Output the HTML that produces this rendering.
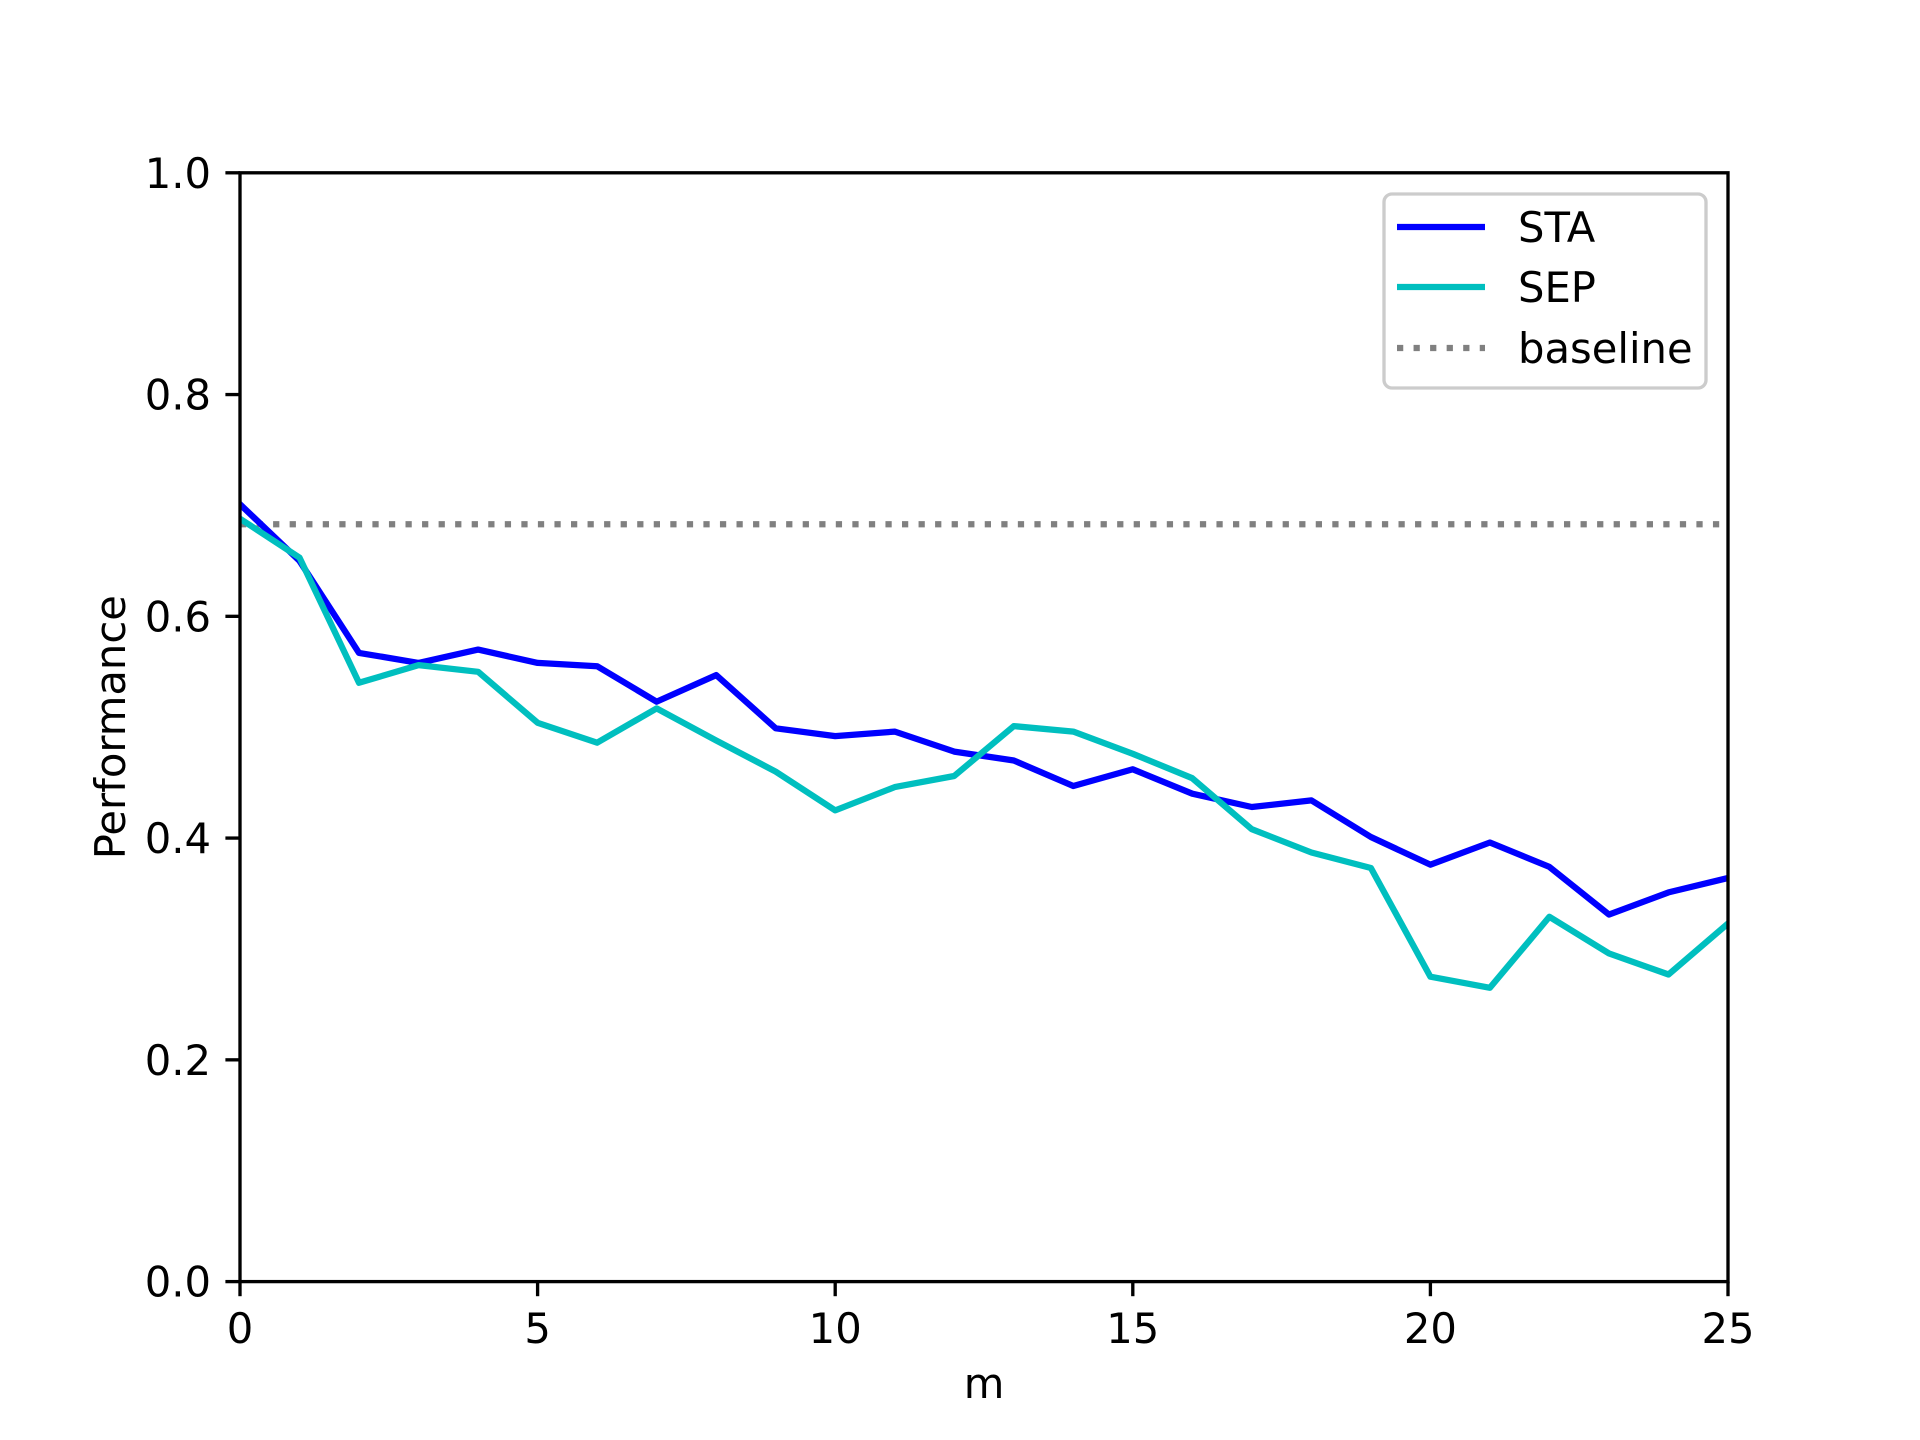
<!DOCTYPE html>
<html><head><meta charset="utf-8"><style>
html,body{margin:0;padding:0;background:#fff}
svg{display:block}
text{font-family:"DejaVu Sans","Liberation Sans",sans-serif;fill:#000}
</style></head><body>
<svg id="chart" width="1920" height="1440" viewBox="0 0 1920 1440" xmlns="http://www.w3.org/2000/svg">
<defs><clipPath id="axclip"><rect x="240" y="172.8" width="1488" height="1108.8"/></clipPath></defs>
<rect width="1920" height="1440" fill="#fff"/>
<g id="plot"></g>
</svg>
<script>
const xValues=[0,1,2,3,4,5,6,7,8,9,10,11,12,13,14,15,16,17,18,19,20,21,22,23,24,25];
const staValues=[0.701,0.650,0.567,0.558,0.570,0.558,0.555,0.523,0.547,0.499,0.492,0.496,0.478,0.470,0.447,0.462,0.440,0.428,0.434,0.401,0.376,0.396,0.374,0.331,0.351,0.364];
const sepValues=[0.688,0.653,0.540,0.556,0.550,0.504,0.486,0.517,0.488,0.460,0.425,0.446,0.456,0.501,0.496,0.476,0.454,0.408,0.387,0.373,0.275,0.265,0.329,0.296,0.277,0.323];
const baselineValue=0.683;
const xTicks=[0,5,10,15,20,25];
const yTicks=[0.0,0.2,0.4,0.6,0.8,1.0];
const yTickLabels=["0.0","0.2","0.4","0.6","0.8","1.0"];

const L=240,R=1728,T=172.8,B=1281.6;
const sx=v=>L+(v-0)/(25-0)*(R-L);
const sy=v=>B-(v-0)/(1-0)*(B-T);
const NS="http://www.w3.org/2000/svg";
const g=document.getElementById('plot');
function mk(tag,attrs,parent){const e=document.createElementNS(NS,tag);for(const k in attrs)e.setAttribute(k,attrs[k]);(parent||g).appendChild(e);return e;}

const data=mk('g',{'clip-path':'url(#axclip)'});



// baseline
const bl=mk('line',{x1:sx(0),x2:sx(25),y1:sy(baselineValue),y2:sy(baselineValue),stroke:'#808080','stroke-width':6.25,'stroke-dasharray':'6.25 10.3'},data);



function series(vals,color,name){
  const pts=vals.map((v,i)=>sx(xValues[i]).toFixed(1)+','+sy(v).toFixed(1)).join(' ');
  const p=mk('polyline',{points:pts,fill:'none',stroke:color,'stroke-width':6.25,'stroke-linejoin':'round','stroke-linecap':'square'},data);
  
  
}
series(staValues,'#0000ff','sta-line');
series(sepValues,'#00bfbf','sep-line');

// spines
const fr=mk('rect',{x:L,y:T,width:R-L,height:B-T,fill:'none',stroke:'#000','stroke-width':3.33});



xTicks.forEach(t=>{
  const tk=mk('line',{x1:sx(t),x2:sx(t),y1:B,y2:B+14.6,stroke:'#000','stroke-width':3.33});
  
  
  const tx=mk('text',{x:sx(t),y:1343,'font-size':41.7,'text-anchor':'middle'});
  tx.textContent=String(t);
  
  
});
yTicks.forEach((t,i)=>{
  const tk=mk('line',{x1:L-14.6,x2:L,y1:sy(t),y2:sy(t),stroke:'#000','stroke-width':3.33});
  
  
  const tx=mk('text',{x:211,y:sy(t)+15,'font-size':41.7,'text-anchor':'end'});
  tx.textContent=yTickLabels[i];
  
  
});
const xl=mk('text',{x:(L+R)/2,y:1398,'font-size':41.7,'text-anchor':'middle'});
xl.textContent='m';


const yl=mk('text',{x:0,y:0,'font-size':41.7,'text-anchor':'middle',transform:'translate(125,'+((T+B)/2)+') rotate(-90)'});
yl.textContent='Performance';



// legend
const lg=mk('g',{});


mk('rect',{x:1384,y:194,width:322,height:194,rx:8,fill:'#fff','fill-opacity':0.8,stroke:'#cccccc','stroke-width':3.33},lg);
const entries=[['STA','#0000ff',null,227],['SEP','#00bfbf',null,287],['baseline','#808080','6.25 10.3',348]];
entries.forEach(e=>{
  const ln=mk('line',{x1:1397,x2:1485,y1:e[3],y2:e[3],stroke:e[1],'stroke-width':6.25},lg);
  if(e[2])ln.setAttribute('stroke-dasharray',e[2]);
  
  
  const tx=mk('text',{x:1518,y:e[3]+15,'font-size':41.7},lg);
  tx.textContent=e[0];
  
  
});
</script>
</body></html>
